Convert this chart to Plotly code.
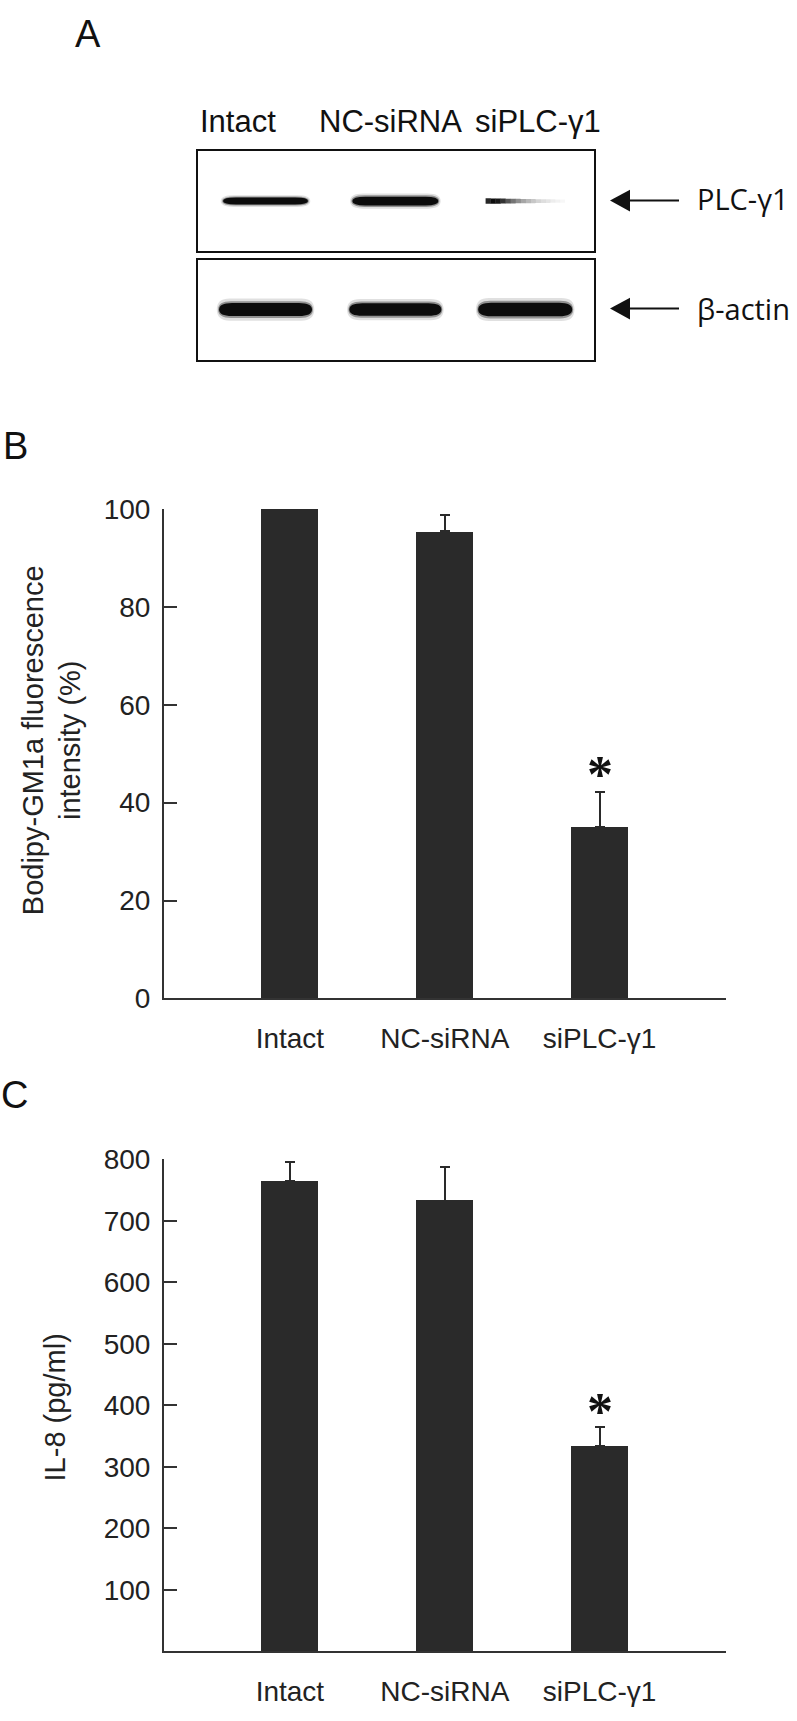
import plotly.graph_objects as go

W, H = 797, 1721


def px(x):
    return x / W


def py(y):
    return 1 - y / H


# ---------------- data ----------------
categories = ["Intact", "NC-siRNA", "siPLC-γ1"]
gm1a_values = [100.0, 95.4, 35.0]
gm1a_errors = [0.0, 3.4, 7.1]
il8_values = [765, 733, 334]
il8_errors = [31, 54, 30]
gm1a_ticks = [0, 20, 40, 60, 80, 100]
il8_ticks = [100, 200, 300, 400, 500, 600, 700, 800]

blot_lanes = [0, 1, 2]
blot_lane_labels = ["Intact", "NC-siRNA", "siPLC-γ1"]
blot_row_labels = ["PLC-γ1", "β-actin"]
plc_band_width = [0.655, 0.663, 0.61]
plc_band_thick = [0.07, 0.09, 0.055]
plc_fade_profile = [0.85, 0.95, 0.9, 0.8, 0.66, 0.54, 0.44, 0.35, 0.28, 0.22,
                    0.17, 0.13, 0.1, 0.07, 0.05, 0.03]
actin_band_width = [0.716, 0.709, 0.724]
actin_band_thick = [0.13, 0.125, 0.135]

BAR = "#2a2a2a"
AX = "#333333"
SANS = "Liberation Sans, Arial, sans-serif"

fig = go.Figure()

# ---------------- panel B ----------------
fig.add_trace(go.Bar(
    x=categories, y=gm1a_values, width=0.368,
    marker=dict(color=BAR, line=dict(width=0)),
    error_y=dict(type="data", symmetric=False, array=gm1a_errors,
                 arrayminus=[0] * len(gm1a_errors), thickness=2, width=5, color=BAR),
    xaxis="x", yaxis="y", showlegend=False, hoverinfo="x+y"))

# ---------------- panel C ----------------
fig.add_trace(go.Bar(
    x=categories, y=il8_values, width=0.368,
    marker=dict(color=BAR, line=dict(width=0)),
    error_y=dict(type="data", symmetric=False, array=il8_errors,
                 arrayminus=[0] * len(il8_errors), thickness=2, width=5, color=BAR),
    xaxis="x2", yaxis="y2", showlegend=False, hoverinfo="x+y"))

# invisible traces to anchor blot axes
fig.add_trace(go.Scatter(x=blot_lanes, y=[0.5] * 3, mode="markers", marker=dict(opacity=0),
                         xaxis="x3", yaxis="y3", showlegend=False, hoverinfo="skip"))
fig.add_trace(go.Scatter(x=blot_lanes, y=[0.5] * 3, mode="markers", marker=dict(opacity=0),
                         xaxis="x4", yaxis="y4", showlegend=False, hoverinfo="skip"))

shapes = []


def band_path(xc, w, t, yc=0.5, r=0.1):
    x0, x1 = xc - w / 2, xc + w / 2
    y0, y1 = yc - t / 2, yc + t / 2
    return (f"M {x0},{yc} Q {x0},{y1} {x0 + r},{y1} L {x1 - r},{y1} "
            f"Q {x1},{y1} {x1},{yc} Q {x1},{y0} {x1 - r},{y0} L {x0 + r},{y0} "
            f"Q {x0},{y0} {x0},{yc} Z")


def add_band(xref, yref, xc, w, t):
    # soft edges: two faint halos under a dense core
    for scale_w, scale_t, op in ((0.035, 1.7, 0.12), (0.015, 1.3, 0.35)):
        shapes.append(dict(type="path", xref=xref, yref=yref,
                           path=band_path(xc, w + scale_w, t * scale_t),
                           fillcolor="#000000", opacity=op, line=dict(width=0), layer="above"))
    shapes.append(dict(type="path", xref=xref, yref=yref, path=band_path(xc, w, t),
                       fillcolor="#050505", opacity=0.95, line=dict(width=0), layer="above"))


for lane, w, t in zip(blot_lanes, plc_band_width, plc_band_thick):
    if lane == 2:
        n = len(plc_fade_profile)
        x0 = lane - w / 2
        seg = w / n
        for i, a in enumerate(plc_fade_profile):
            tt = t * (1 - 0.45 * i / n)
            shapes.append(dict(type="rect", xref="x3", yref="y3",
                               x0=x0 + i * seg, x1=x0 + (i + 1) * seg + 0.002,
                               y0=0.5 - tt / 2, y1=0.5 + tt / 2,
                               fillcolor="#000000", opacity=a, line=dict(width=0), layer="above"))
    else:
        add_band("x3", "y3", lane, w, t)

for lane, w, t in zip(blot_lanes, actin_band_width, actin_band_thick):
    add_band("x4", "y4", lane, w, t)

# arrows for blot rows
for yy in (189, 299):
    shapes.append(dict(type="line", xref="paper", yref="paper", x0=px(626), x1=px(679),
                       y0=py(yy), y1=py(yy), line=dict(color="#111", width=2)))
    shapes.append(dict(type="path", xref="paper", yref="paper",
                       path=f"M {px(610)},{py(yy)} L {px(630)},{py(yy - 11)} L {px(630)},{py(yy + 11)} Z",
                       fillcolor="#111", line=dict(width=0)))

annotations = []
# panel letters
for letter, (lx, ly) in zip(["A", "B", "C"], [(88, 19), (15.5, 438.5), (15, 1099.5)]):
    annotations.append(dict(text=letter, x=px(lx), y=py(ly), xref="paper", yref="paper",
                            xanchor="center", yanchor="middle", showarrow=False,
                            font=dict(family=SANS, size=38, color="#111")))

# blot lane labels
for lab, lx in zip(blot_lane_labels, [237.5, 390.5, 537.5]):
    annotations.append(dict(text=lab, x=px(lx), y=py(108), xref="paper", yref="paper",
                            xanchor="center", yanchor="middle", showarrow=False,
                            font=dict(family=SANS, size=31, color="#111")))
# blot row labels
for lab, ly in zip(blot_row_labels, [187, 299]):
    annotations.append(dict(text=lab, x=px(695), y=py(ly), xref="paper", yref="paper",
                            xanchor="left", yanchor="middle", showarrow=False,
                            font=dict(family="Open Sans, sans-serif", size=29, color="#111")))

# y titles
annotations.append(dict(text="Bodipy-GM1a fluorescence<br>intensity (%)", x=px(51.5), y=py(739),
                        xref="paper", yref="paper", xanchor="center", yanchor="middle",
                        textangle=-90, showarrow=False,
                        font=dict(family=SANS, size=29, color="#222")))
annotations.append(dict(text="IL-8 (pg/ml)", x=px(55), y=py(1418),
                        xref="paper", yref="paper", xanchor="center", yanchor="middle",
                        textangle=-90, showarrow=False,
                        font=dict(family=SANS, size=29, color="#222")))

# significance asterisks
STAR_FONT = dict(family="Liberation Serif, Times New Roman, serif", size=52, color="#111")
annotations.append(dict(text="<b>*</b>", x=categories[2], y=gm1a_values[2] + gm1a_errors[2],
                        xref="x", yref="y", yanchor="middle", yshift=18, showarrow=False,
                        font=STAR_FONT))
annotations.append(dict(text="<b>*</b>", x=categories[2], y=il8_values[2] + il8_errors[2],
                        xref="x2", yref="y2", yanchor="middle", yshift=16, showarrow=False,
                        font=STAR_FONT))

xcommon = dict(type="category", range=[-0.813, 2.816], showline=True, linecolor=AX, linewidth=2,
               ticks="", showgrid=False, zeroline=False, ticklabelstandoff=14,
               tickfont=dict(family=SANS, size=28, color="#222"), fixedrange=True)
ycommon = dict(showline=True, linecolor=AX, linewidth=2, ticks="inside", ticklen=13,
               tickwidth=2, tickcolor=AX, showgrid=False, zeroline=False,
               ticklabelstandoff=6, tickfont=dict(family=SANS, size=28, color="#222"),
               fixedrange=True)

blot_x = dict(range=[-0.52, 2.53], domain=[px(198), px(594)], showline=True, mirror=True,
              linecolor="#111", linewidth=2, ticks="", showticklabels=False,
              showgrid=False, zeroline=False, fixedrange=True)
blot_y = dict(range=[0, 1], showline=True, mirror=True, linecolor="#111", linewidth=2,
              ticks="", showticklabels=False, showgrid=False, zeroline=False, fixedrange=True)

fig.update_layout(
    width=W, height=H, margin=dict(l=0, r=0, t=0, b=0),
    paper_bgcolor="white", plot_bgcolor="white",
    xaxis=dict(domain=[px(164), px(726)], anchor="y", **xcommon),
    yaxis=dict(domain=[py(1001.5), py(503)], anchor="x", range=[0, 100],
               tickvals=gm1a_ticks, **ycommon),
    xaxis2=dict(domain=[px(164), px(726)], anchor="y2", **xcommon),
    yaxis2=dict(domain=[py(1666.4), py(1165.3)], anchor="x2", range=[0, 800],
                tickvals=il8_ticks, **ycommon),
    xaxis3=dict(anchor="y3", **blot_x),
    yaxis3=dict(anchor="x3", domain=[py(240), py(139)], **blot_y),
    xaxis4=dict(anchor="y4", **blot_x),
    yaxis4=dict(anchor="x4", domain=[py(351), py(249)], **blot_y),
    shapes=shapes, annotations=annotations, bargap=0,
)

fig.write_html(
    "out.html",
    config={"displayModeBar": False},
    post_script="document.body.style.margin='0';document.body.style.overflow='hidden';",
)
